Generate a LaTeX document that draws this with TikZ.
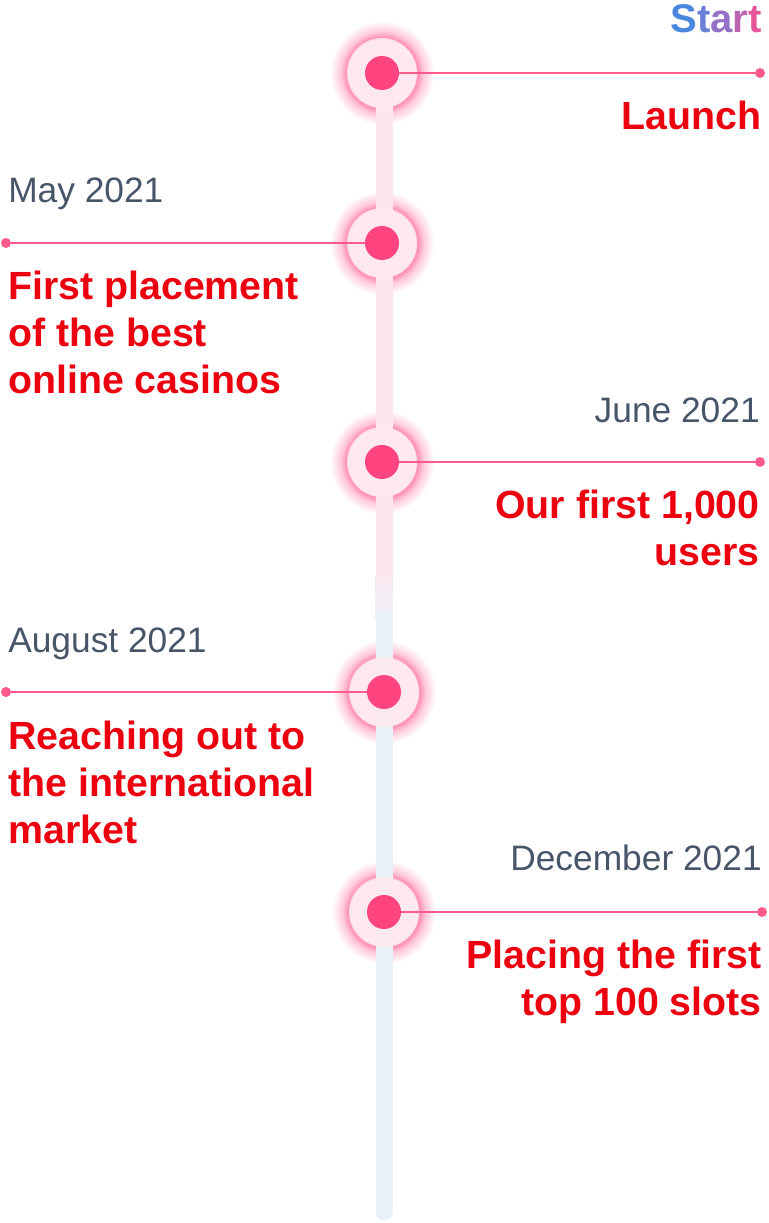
\documentclass[tikz,border=0pt]{standalone}
\usepackage{fontspec}
\setmainfont{Liberation Sans}
\usepackage{xcolor}
\usetikzlibrary{positioning,calc}
\definecolor{MarkPink}{HTML}{FF4580}
\definecolor{LinkPink}{HTML}{FF5A8A}
\definecolor{HaloPink}{HTML}{FFE8EF}
\definecolor{GlowPink}{HTML}{FF8DB1}
\definecolor{GlowSoft}{HTML}{FFCBDA}
\definecolor{TrackPink}{HTML}{FDE7EE}
\definecolor{TrackBlue}{HTML}{E9F0FA}
\definecolor{DateGray}{HTML}{475569}
\definecolor{TitleRed}{HTML}{EC0010}
\definecolor{StartA}{HTML}{4A88E0}
\definecolor{StartB}{HTML}{6C7FD6}
\definecolor{StartC}{HTML}{9471C8}
\definecolor{StartD}{HTML}{BA64B2}
\definecolor{StartE}{HTML}{E6579A}
\pgfdeclareradialshading{glowshade}{\pgfpoint{0bp}{0bp}}{%
  color(0bp)=(HaloPink); color(16bp)=(HaloPink); color(17bp)=(GlowPink);
  color(20bp)=(GlowSoft); color(25bp)=(white); color(50bp)=(white)}
\tikzset{
    % Glowing milestone marks
    glow/.style={
        circle,
        inner sep=0pt,
        minimum size=78pt,
        shading=glowshade
    },
    halo/.style={
        circle,
        inner sep=0pt,
        minimum size=52.5pt,
        fill=HaloPink,
        fill opacity=0.85
    },
    milestone dot/.style={
        circle,
        inner sep=0pt,
        minimum size=25.5pt,
        fill=MarkPink
    },
    end dot/.style={
        circle,
        inner sep=0pt,
        minimum size=7.5pt,
        fill=LinkPink
    },
    link/.style={
        line width=1.5pt,
        color=LinkPink
    },
    track/.style={
        line width=12.75pt
    },
    % Texts
    date/.style={
        inner sep=0pt,
        text=DateGray,
        font=\fontsize{26.5}{30}\selectfont
    },
    title/.style={
        inner sep=0pt,
        text=TitleRed,
        font=\fontsize{29.5}{35}\selectfont\bfseries
    }
}

\begin{document}
\begin{tikzpicture}[x=0.75pt, y=-0.75pt]
    \useasboundingbox (0,0) rectangle (768,1223);

    % Milestone positions
    \coordinate (m1) at (382,73);
    \coordinate (m2) at (382,243);
    \coordinate (m3) at (382,462);
    \coordinate (m4) at (384,692);
    \coordinate (m5) at (384,912);

    % Glow
    \foreach \m in {m1,m2,m3,m4,m5}
        \node[glow] at (\m) {};

    % Track
    \coordinate (trackTop) at (384,73);
    \coordinate (trackMid) at (384,575);
    \coordinate (trackLow) at (384,620);
    \coordinate (trackEnd) at (384,1212);
    \draw[track, TrackPink] (trackTop) -- ($(trackMid)+(0,0.5)$);
    \shade[top color=TrackPink, bottom color=TrackBlue]
        ($(trackMid)+(-8.5,0)$) rectangle ($(trackLow)+(8.5,0)$);
    \draw[track, TrackBlue, line cap=round] ($(trackLow)+(0,-0.5)$) -- (trackEnd);

    % Marks
    \foreach \i in {1,...,5} {
        \node[halo] (halo\i) at (m\i) {};
        \node[milestone dot] (dot\i) at (m\i) {};
    }

    % Connectors
    \node[end dot] (end1) at (760,73) {};
    \node[end dot] (end2) at (6,243) {};
    \node[end dot] (end3) at (760,462) {};
    \node[end dot] (end4) at (6,692) {};
    \node[end dot] (end5) at (762,912) {};
    \draw[link] (dot1) -- (end1);
    \draw[link] (end2) -- (dot2);
    \draw[link] (dot3) -- (end3);
    \draw[link] (end4) -- (dot4);
    \draw[link] (dot5) -- (end5);

    % Start
    \node[inner sep=0pt, anchor=base east, font=\fontsize{30}{34}\selectfont\bfseries]
        (start) at (762,33)
        {\textcolor{StartA}{S}\textcolor{StartB}{t}\textcolor{StartC}{a}\textcolor{StartD}{r}\textcolor{StartE}{t}};

    % Dates
    \node[date, anchor=base west] (date2) at (8,203) {May 2021};
    \node[date, anchor=base east] (date3) at (760,422) {June 2021};
    \node[date, anchor=base west] (date4) at (8,652) {August 2021};
    \node[date, anchor=base east] (date5) at (762,870) {December 2021};

    % Titles (base = last line)
    \node[title, anchor=base east] (title1) at (762,130) {Launch};
    \node[title, anchor=base west, align=left] (title2) at (8,393)
        {First placement\\of the best\\online casinos};
    \node[title, anchor=base east, align=right] (title3) at (760,565)
        {Our first 1,000\\users};
    \node[title, anchor=base west, align=left] (title4) at (8,843)
        {Reaching out to\\the international\\market};
    \node[title, anchor=base east, align=right] (title5) at (762,1015)
        {Placing the first\\top 100 slots};
\end{tikzpicture}
\end{document}
